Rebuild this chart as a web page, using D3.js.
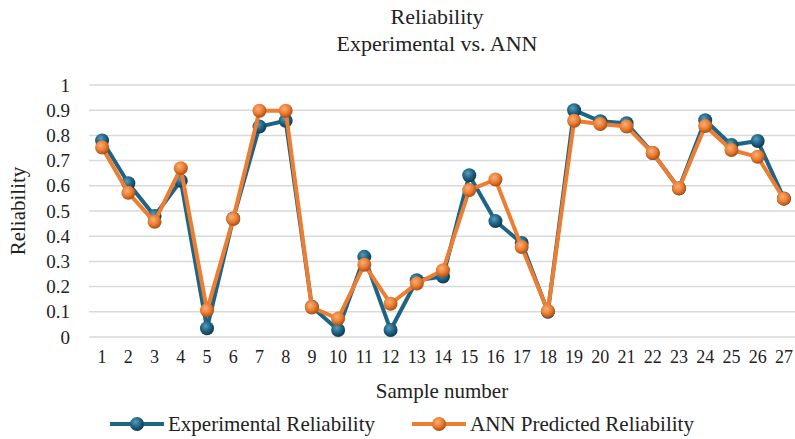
<!DOCTYPE html>
<html>
<head>
<meta charset="utf-8">
<script src="https://cdn.jsdelivr.net/npm/d3@7"></script>
<style>
  body { margin: 0; background: #fff; }
  svg text { font-family: "Liberation Serif", "DejaVu Serif", serif; fill: #222; }
</style>
</head>
<body>
<svg id="chart" width="795" height="439"></svg>
<script>
const samples = d3.range(1, 28);
const experimental = [0.78, 0.61, 0.48, 0.62, 0.035, 0.47, 0.835, 0.858, 0.12, 0.028,
  0.318, 0.028, 0.225, 0.24, 0.642, 0.46, 0.373, 0.10, 0.90, 0.856, 0.848, 0.73,
  0.59, 0.86, 0.762, 0.778, 0.55];
const annPredicted = [0.752, 0.572, 0.457, 0.67, 0.106, 0.468, 0.898, 0.898, 0.117, 0.073,
  0.287, 0.132, 0.212, 0.265, 0.583, 0.625, 0.357, 0.103, 0.858, 0.845, 0.835, 0.73,
  0.589, 0.837, 0.742, 0.715, 0.548];
const yTicks = [0, 0.1, 0.2, 0.3, 0.4, 0.5, 0.6, 0.7, 0.8, 0.9, 1];

const series = [
  { name: "Experimental Reliability", values: experimental, color: "#1f6484", light: "#5b9bb8", dark: "#0f3a50", id: "gBlue" },
  { name: "ANN Predicted Reliability", values: annPredicted, color: "#ed7d31", light: "#f6b07a", dark: "#a84f14", id: "gOrange" }
];

const serif = "'Liberation Serif', 'DejaVu Serif', serif";
const svg = d3.select("#chart");
const plotLeft = 89, plotRight = 797, plotTop = 85, plotBottom = 337;

const x = d3.scaleBand().domain(samples).range([plotLeft, plotRight]);
const y = d3.scaleLinear().domain([0, 1]).range([plotBottom, plotTop]);
const cx = d => x(d) + x.bandwidth() / 2;

// sphere gradients
const defs = svg.append("defs");
series.forEach(s => {
  const g = defs.append("radialGradient").attr("id", s.id)
    .attr("cx", "40%").attr("cy", "35%").attr("r", "65%");
  g.append("stop").attr("offset", "0%").attr("stop-color", s.light);
  g.append("stop").attr("offset", "55%").attr("stop-color", s.color);
  g.append("stop").attr("offset", "100%").attr("stop-color", s.dark);
});

// gridlines
svg.append("g")
  .selectAll("line")
  .data(yTicks)
  .enter()
  .append("line")
  .attr("x1", plotLeft).attr("x2", 801)
  .attr("y1", d => y(d)).attr("y2", d => y(d))
  .attr("stroke", "#d9d9d9")
  .attr("stroke-width", 1.5);

// y axis labels
const yAxis = svg.append("g")
  .attr("transform", `translate(${plotLeft - 4},0)`)
  .call(d3.axisLeft(y).tickValues(yTicks).tickSize(0).tickPadding(15).tickFormat(d => d3.format("")(d)));
yAxis.select(".domain").remove();
yAxis.attr("font-family", serif).selectAll("text").style("font-size", "19px");

// x axis labels
const xAxis = svg.append("g")
  .attr("transform", `translate(0,${plotBottom + 5})`)
  .call(d3.axisBottom(x).tickSize(0).tickPadding(8));
xAxis.select(".domain").remove();
xAxis.attr("font-family", serif).selectAll("text").style("font-size", "18px");

// series
series.forEach(s => {
  const line = d3.line()
    .x((d, i) => cx(samples[i]))
    .y(d => y(d));
  svg.append("path")
    .datum(s.values)
    .attr("fill", "none")
    .attr("stroke", s.color)
    .attr("stroke-width", 4)
    .attr("stroke-linejoin", "round")
    .attr("d", line);
  svg.append("g")
    .selectAll("circle")
    .data(s.values)
    .enter()
    .append("circle")
    .attr("cx", (d, i) => cx(samples[i]))
    .attr("cy", d => y(d))
    .attr("r", 7)
    .attr("fill", `url(#${s.id})`);
});

// titles
svg.append("text").attr("x", 437).attr("y", 24).attr("text-anchor", "middle")
  .style("font-size", "22px").text("Reliability");
svg.append("text").attr("x", 437).attr("y", 51).attr("text-anchor", "middle")
  .style("font-size", "22px").text("Experimental vs. ANN");

svg.append("text").attr("x", 442).attr("y", 398).attr("text-anchor", "middle")
  .style("font-size", "21px").text("Sample number");

svg.append("text")
  .attr("transform", "translate(25,211) rotate(-90)")
  .attr("text-anchor", "middle")
  .style("font-size", "21px").text("Reliability");

// legend
const legendX = [110, 412];
series.forEach((s, i) => {
  const lg = svg.append("g").attr("transform", `translate(${legendX[i]},424)`);
  lg.append("line").attr("x1", 0).attr("x2", 54).attr("y1", 0).attr("y2", 0)
    .attr("stroke", s.color).attr("stroke-width", 4);
  lg.append("circle").attr("cx", 27).attr("cy", 0).attr("r", 7).attr("fill", `url(#${s.id})`);
  lg.append("text").attr("x", 58).attr("y", 7).style("font-size", "21px").text(s.name);
});
</script>
</body>
</html>
